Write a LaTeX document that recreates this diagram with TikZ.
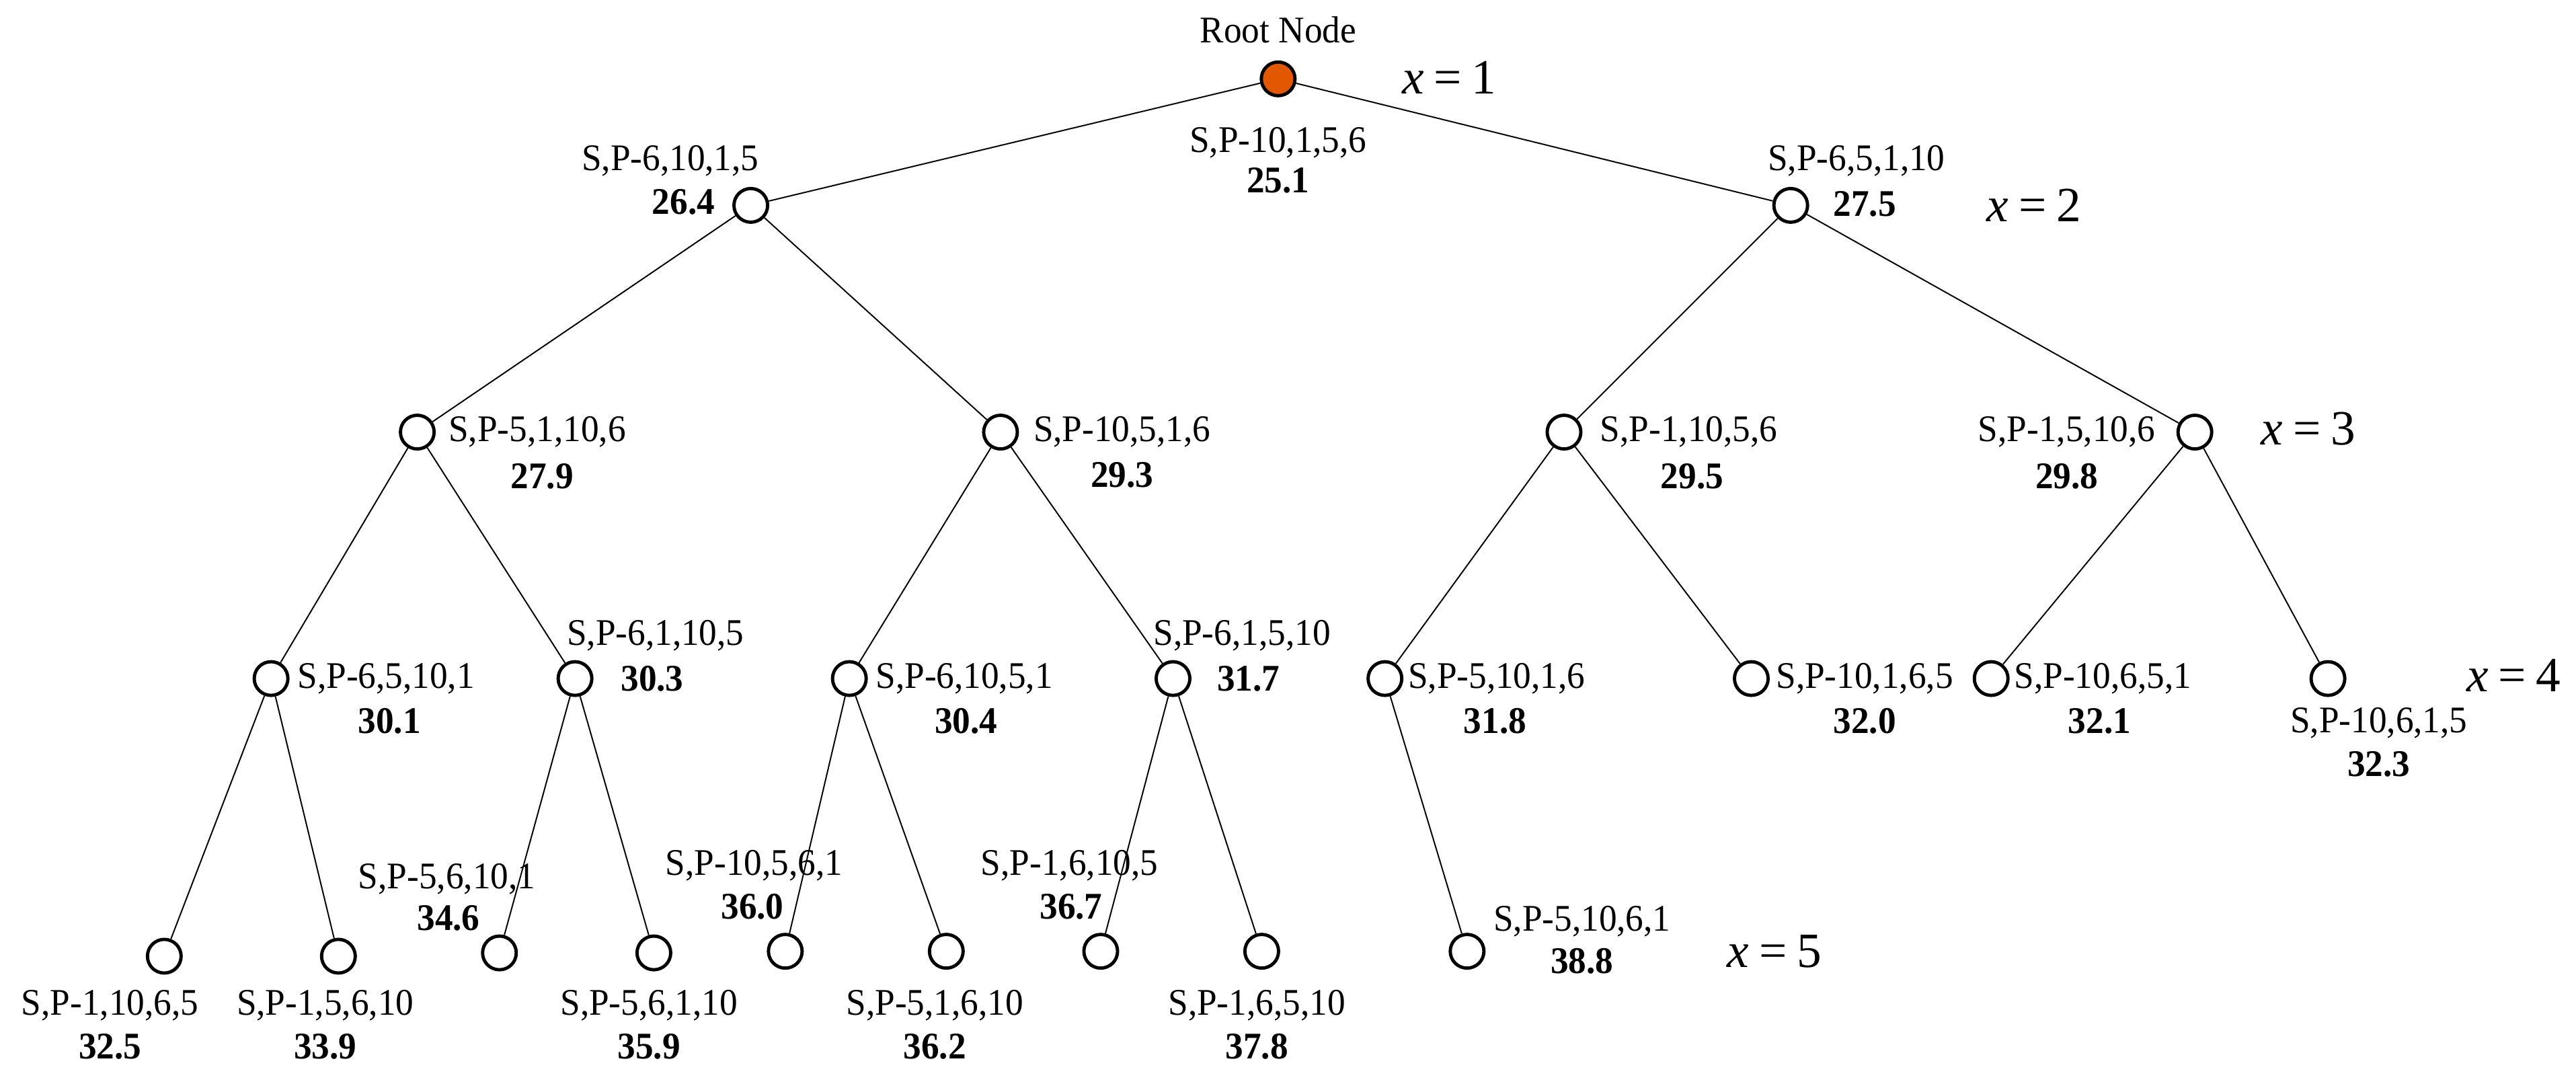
\documentclass[tikz,border=0pt]{standalone}
\usepackage{fontspec}
\setmainfont{Liberation Serif}
\usetikzlibrary{shapes.geometric}
\definecolor{rootor}{RGB}{226,88,0}
\newcommand{\tl}[1]{\scalebox{1}[1.05]{#1}}
\newcommand{\xeq}[1]{\textit{x}\hspace{0.2em}=\hspace{0.2em}#1}
\begin{document}
\begin{tikzpicture}[x=1pt,y=-1pt,
  nd/.style={draw, circle, line width=2pt, minimum size=20.5pt, inner sep=0pt, fill=white},
  edge/.style={line width=0.8pt},
  lab/.style={inner sep=0pt, font=\fontsize{21.8}{24}\selectfont},
  num/.style={inner sep=0pt, font=\fontsize{21.8}{24}\selectfont\bfseries},
  lev/.style={inner sep=0pt, font=\fontsize{30}{34}\selectfont}]
\useasboundingbox (0,0) rectangle (1568,661);
% tree nodes
\node[nd, fill=rootor] (r) at (778,48) {};
\node[nd] (a) at (457,125) {};
\node[nd] (b) at (1090,125) {};
\node[nd] (aa) at (254,263) {};
\node[nd] (ab) at (609,263) {};
\node[nd] (ba) at (952,263) {};
\node[nd] (bb) at (1336,263) {};
\node[nd] (aaa) at (165,413) {};
\node[nd] (aab) at (350,413) {};
\node[nd] (aba) at (517,413) {};
\node[nd] (abb) at (714,413) {};
\node[nd] (baa) at (843,413) {};
\node[nd] (bab) at (1066,413) {};
\node[nd] (bba) at (1212,413) {};
\node[nd] (bbb) at (1417,413) {};
\node[nd] (l1) at (100,582) {};
\node[nd] (l2) at (206,582) {};
\node[nd] (l3) at (304,580) {};
\node[nd] (l4) at (398,580) {};
\node[nd] (l5) at (478,579) {};
\node[nd] (l6) at (576,579) {};
\node[nd] (l7) at (670,579) {};
\node[nd] (l8) at (768,579) {};
\node[nd] (l9) at (893,579) {};
% edges
\foreach \p/\c in {r/a, r/b, a/aa, a/ab, b/ba, b/bb, aa/aaa, aa/aab, ab/aba, ab/abb, ba/baa, ba/bab, bb/bba, bb/bbb, aaa/l1, aaa/l2, aab/l3, aab/l4, aba/l5, aba/l6, abb/l7, abb/l8, baa/l9}
  \draw[edge] (\p) -- (\c);
% labels
\node[lab] (troot) at (778,18) {\tl{Root Node}};
\node[lev] (x1) at (882,47) {\xeq{1}};
\node[lab] (t0) at (778,87) {\tl{S,P-10,1,5,6}};
\node[num] (n0) at (778,110) {\tl{25.1}};
\node[lab] (ta) at (408,98) {\tl{S,P-6,10,1,5}};
\node[num] (na) at (416,123) {\tl{26.4}};
\node[lab] (tb) at (1130,98) {\tl{S,P-6,5,1,10}};
\node[num] (nb) at (1135,124) {\tl{27.5}};
\node[lev] (x2) at (1238,125) {\xeq{2}};
\node[lab] (taa) at (327,263) {\tl{S,P-5,1,10,6}};
\node[num] (naa) at (330,290) {\tl{27.9}};
\node[lab] (tab) at (683,263) {\tl{S,P-10,5,1,6}};
\node[num] (nab) at (683,289) {\tl{29.3}};
\node[lab] (tba) at (1028,263) {\tl{S,P-1,10,5,6}};
\node[num] (nba) at (1030,290) {\tl{29.5}};
\node[lab] (tbb) at (1258,263) {\tl{S,P-1,5,10,6}};
\node[num] (nbb) at (1258,290) {\tl{29.8}};
\node[lev] (x3) at (1405,261) {\xeq{3}};
\node[lab] (taaa) at (235,413) {\tl{S,P-6,5,10,1}};
\node[num] (naaa) at (237,439) {\tl{30.1}};
\node[lab] (taab) at (399,387) {\tl{S,P-6,1,10,5}};
\node[num] (naab) at (397,413) {\tl{30.3}};
\node[lab] (taba) at (587,413) {\tl{S,P-6,10,5,1}};
\node[num] (naba) at (588,439) {\tl{30.4}};
\node[lab] (tabb) at (756,387) {\tl{S,P-6,1,5,10}};
\node[num] (nabb) at (760,413) {\tl{31.7}};
\node[lab] (tbaa) at (911,413) {\tl{S,P-5,10,1,6}};
\node[num] (nbaa) at (910,439) {\tl{31.8}};
\node[lab] (tbab) at (1135,413) {\tl{S,P-10,1,6,5}};
\node[num] (nbab) at (1135,439) {\tl{32.0}};
\node[lab] (tbba) at (1280,413) {\tl{S,P-10,6,5,1}};
\node[num] (nbba) at (1278,439) {\tl{32.1}};
\node[lab] (tbbb) at (1448,440) {\tl{S,P-10,6,1,5}};
\node[num] (nbbb) at (1448,465) {\tl{32.3}};
\node[lev] (x4) at (1530,411) {\xeq{4}};
\node[lab] (tl1) at (67,612) {\tl{S,P-1,10,6,5}};
\node[num] (nl1) at (67,637) {\tl{32.5}};
\node[lab] (tl2) at (198,612) {\tl{S,P-1,5,6,10}};
\node[num] (nl2) at (198,637) {\tl{33.9}};
\node[lab] (tl3) at (272,535) {\tl{S,P-5,6,10,1}};
\node[num] (nl3) at (273,559) {\tl{34.6}};
\node[lab] (tl4) at (395,612) {\tl{S,P-5,6,1,10}};
\node[num] (nl4) at (395,637) {\tl{35.9}};
\node[lab] (tl5) at (459,527) {\tl{S,P-10,5,6,1}};
\node[num] (nl5) at (458,552) {\tl{36.0}};
\node[lab] (tl6) at (569,612) {\tl{S,P-5,1,6,10}};
\node[num] (nl6) at (569,637) {\tl{36.2}};
\node[lab] (tl7) at (651,527) {\tl{S,P-1,6,10,5}};
\node[num] (nl7) at (652,552) {\tl{36.7}};
\node[lab] (tl8) at (765,612) {\tl{S,P-1,6,5,10}};
\node[num] (nl8) at (765,637) {\tl{37.8}};
\node[lab] (tl9) at (963,561) {\tl{S,P-5,10,6,1}};
\node[num] (nl9) at (963,585) {\tl{38.8}};
\node[lev] (x5) at (1080,579) {\xeq{5}};
\end{tikzpicture}
\end{document}
